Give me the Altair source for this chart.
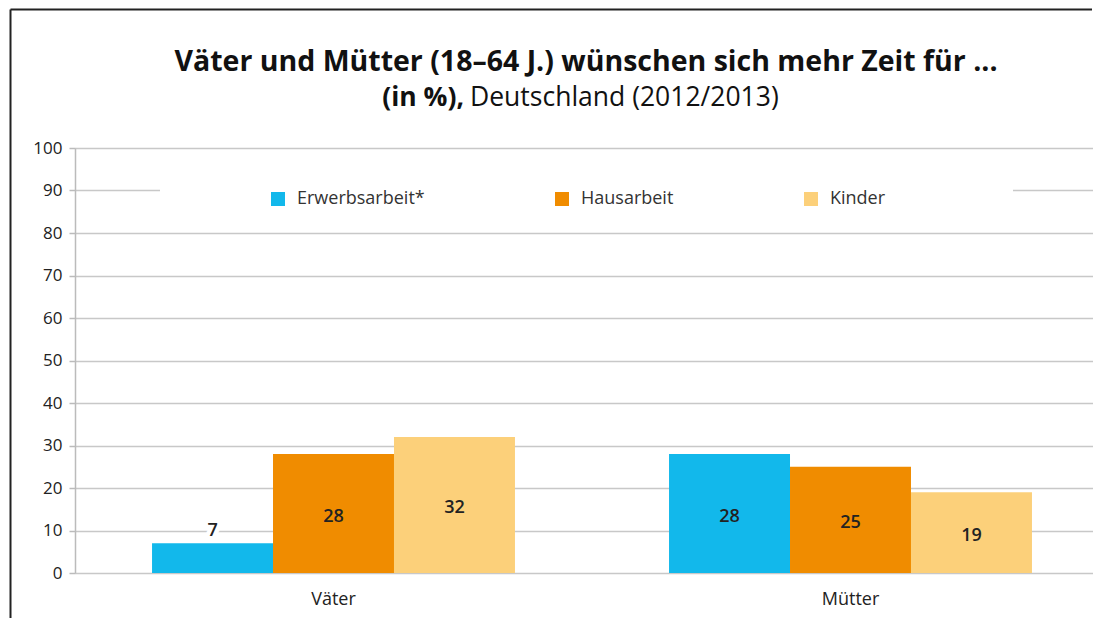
import altair as alt
import pandas as pd

groups = ["Väter", "Mütter"]
categories = ["Erwerbsarbeit*", "Hausarbeit", "Kinder"]
vaeter = [7, 28, 32]
muetter = [28, 25, 19]
colors = ["#12b8eb", "#f08c00", "#fcd07a"]
y_ticks = [0, 10, 20, 30, 40, 50, 60, 70, 80, 90, 100]
title_line1 = "Väter und Mütter (18–64 J.) wünschen sich mehr Zeit für ..."
title_line2_bold = "(in %),"
title_line2_rest = "Deutschland (2012/2013)"

FONT = "Open Sans"

rows = []
for g, vals in zip(groups, [vaeter, muetter]):
    for c, v in zip(categories, vals):
        rows.append({"Gruppe": g, "Kategorie": c, "Wert": v})
df = pd.DataFrame(rows)

one = pd.DataFrame({"a": [0]})

x_enc = alt.X(
    "Gruppe:N", sort=groups,
    scale=alt.Scale(range=[0, 1034], paddingInner=0.298, paddingOuter=0.149),
    axis=alt.Axis(title=None, labelAngle=0, ticks=False, domain=False,
                  labelFontSize=18, labelPadding=17, labelColor="#222", labelFont=FONT),
)
xo_enc = alt.XOffset("Kategorie:N", sort=categories,
                     scale=alt.Scale(paddingInner=0, paddingOuter=0))

base = alt.Chart(df).encode(x=x_enc, xOffset=xo_enc)

blank = "\u2800" * 9
bars = base.mark_bar().encode(
    y=alt.Y("Wert:Q", scale=alt.Scale(domain=[0, 100]),
            axis=alt.Axis(values=y_ticks, title=None, grid=True, gridColor="#c8c8c8",
                          gridWidth=1.5, domainColor="#bbbbbb", domainWidth=1.5,
                          tickColor="#bbbbbb", tickSize=6, tickWidth=1.5,
                          labelFontSize=17, labelColor="#222", labelPadding=7,
                          labelFont=FONT)),
    color=alt.Color(
        "Kategorie:N", sort=categories,
        scale=alt.Scale(domain=categories, range=colors),
        legend=alt.Legend(
            title="MMMMM", titleOrient="left", titleFontSize=18, titlePadding=14,
            titleColor="white", titleFont=FONT,
            orient="none", legendX=85, legendY=32, direction="horizontal",
            symbolType="square", symbolSize=196, symbolStrokeWidth=0,
            labelFontSize=18, labelColor="#333", labelFont=FONT, labelLimit=400,
            labelOffset=10, columnPadding=128, fillColor="white", padding=10,
            labelExpr=f"datum.label == 'Kinder' ? datum.label + '{blank}' : datum.label",
        ),
    ),
)

lab_base = base.transform_calculate(
    pos="datum.Wert < 10 ? datum.Wert + 3.6 : datum.Wert / 2"
).encode(
    y=alt.Y("pos:Q"),
    text=alt.Text("Wert:Q"),
)
halo = lab_base.transform_filter("datum.Wert < 10").mark_text(
    font=FONT, fontSize=18, fontWeight=600, stroke="white", strokeWidth=9,
    color="white", baseline="middle", dy=3)
labels = lab_base.mark_text(font=FONT, fontSize=18, fontWeight=600, color="#222",
                            baseline="middle", dy=3)

t1 = alt.Chart(one).mark_text(font=FONT, fontSize=28.5, fontWeight="bold", color="#111",
                              align="center", baseline="alphabetic").encode(
    x=alt.value(511), y=alt.value(-77), text=alt.value(title_line1))
t2a = alt.Chart(one).mark_text(font=FONT, fontSize=26.5, fontWeight="bold", color="#111",
                               align="right", baseline="alphabetic").encode(
    x=alt.value(389), y=alt.value(-42), text=alt.value(title_line2_bold))
t2b = alt.Chart(one).mark_text(font=FONT, fontSize=26.5, fontWeight="normal", color="#111",
                               align="left", baseline="alphabetic").encode(
    x=alt.value(395), y=alt.value(-42), text=alt.value(title_line2_rest))

frame_top = alt.Chart(one).mark_rule(color="#222", strokeWidth=2).encode(
    x=alt.value(-64.5), x2=alt.value(1017), y=alt.value(-138.5))
frame_left = alt.Chart(one).mark_rule(color="#222", strokeWidth=2).encode(
    x=alt.value(-64.5), y=alt.value(-138.5), y2=alt.value(480))

chart = alt.layer(frame_top, frame_left, t1, t2a, t2b, bars, halo, labels).properties(
    width=1018, height=425,
    padding={"left": 67, "top": 140, "right": 0, "bottom": 45},
    autosize=alt.AutoSizeParams(type="none"),
).configure_view(stroke=None).configure(background="white")

chart.save("out.html", embed_options={"renderer": "svg", "actions": False})
